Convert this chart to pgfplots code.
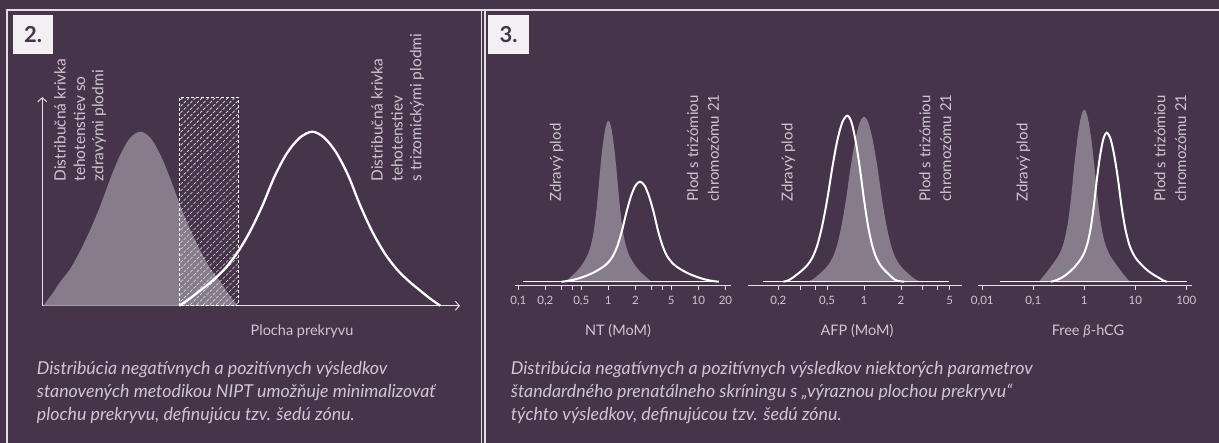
\documentclass[border=0pt]{standalone}
\usepackage{fontspec}
\setmainfont{Lato}
\usepackage{pgfplots}
\pgfplotsset{compat=1.18}
\usetikzlibrary{arrows.meta,patterns.meta}
\definecolor{bg}{HTML}{46344A}
\definecolor{fillgrey}{HTML}{877C8C}
\definecolor{txt}{HTML}{CEC7D1}
\definecolor{frame}{HTML}{E4DFE6}
\definecolor{boxbg}{HTML}{F2F0F3}
\newcommand\lab{\fontsize{15}{16}\selectfont}
\newcommand\lablarge{\fontsize{15.5}{17}\selectfont}
\newcommand\captfont{\fontsize{17.8}{19}\selectfont\itshape}
\pgfplotsset{
  minichart/.style={
    scale only axis, height=174pt, ymin=-4, ymax=170,
    axis y line=none, axis x line*=bottom,
    axis line style={draw=frame, line width=1.2pt, -},
    ytick=\empty,
    tick align=outside, major tick length=4pt, minor tick length=4pt,
    tick style={draw=frame, line width=0.8pt},
    xticklabel style={font=\fontsize{11.5}{13}\selectfont, text=txt, yshift=-3pt},
    clip=false
  }
}
\begin{document}
\begin{tikzpicture}[x=1pt,y=1pt]
\fill[bg] (0,0) rectangle (1219,443);
\draw[frame, line width=2pt] (7,0) -- (7,433) -- (1219,433);
\draw[frame, line width=1.6pt] (481.5,0) -- (481.5,433);
\draw[frame, line width=1.6pt] (485,0) -- (485,433);
\fill[boxbg] (13,389) rectangle (53,428);
\node[text=bg, font=\fontsize{22}{24}\selectfont\bfseries] at (33,408.5) {2.};
\fill[boxbg] (488,389) rectangle (529,428);
\node[text=bg, font=\fontsize{22}{24}\selectfont\bfseries] at (508.5,408.5) {3.};

% ---------- panel 2 ----------
\begin{axis}[at={(42.3pt,137.3pt)}, anchor=south west, scale only axis,
  width=417.7pt, height=208.6pt, xmin=0, xmax=417.7, ymin=0, ymax=208.6,
  axis lines=left, ticks=none, clip=false,
  axis line style={draw=frame, line width=1pt, -{Straight Barb[length=4pt,width=9pt]}}]
\addplot[fill=fillgrey, draw=none, smooth] coordinates {
(1,0) (4,4) (10,12) (18,24) (28,37) (38,55) (48,76) (58,100) (68,127) (78,151) (88,168) (98,174)
(108,168) (118,151) (128,127) (138,100) (148,76) (158,55) (168,37) (178,24) (186,12) (192,4) (195,0)} \closedcycle;
\addplot[draw=white, densely dashed, line width=0.8pt, pattern={Lines[angle=45,distance=4.6pt,line width=0.6pt]}, pattern color=white!80!fillgrey]
coordinates {(137,0) (137,208.6) (195.7,208.6) (195.7,0)} \closedcycle;
\addplot[white, line width=2.3pt, smooth] coordinates {
(137,0) (147.3,7) (157.7,15) (170.2,25) (182.6,37) (195.1,53) (207.6,74) (220.1,100) (232.6,130) (245,153) (257.5,168) (270,174)
(282,168) (294,153) (306,130) (318,100) (330,74) (342,53) (354,37) (366,25) (378,15) (388,7) (398,0)};
\end{axis}

% ---------- NT ----------
\begin{axis}[minichart, at={(515pt,157.3pt)}, anchor=south west, width=216pt, xmin=-1.037, xmax=1.363,
  xtick={-1,-0.699,-0.301,0,0.301,0.699,1,1.301},
  xticklabels={{0,1},{0,2},{0,5},1,2,5,10,20},
  minor xtick={-0.523,-0.398,0.477,0.602}]
\addplot[fill=fillgrey, draw=none, smooth] coordinates {
(-0.4767,0) (-0.4278,4.0) (-0.3667,8.9) (-0.3056,15.3) (-0.2444,24.2) (-0.2139,30.6) (-0.1833,40.3) (-0.1528,56.4) (-0.1222,80.5) (-0.0917,111.1) (-0.0611,136.9) (-0.0306,154.6) (0,161)
(0.0306,154.6) (0.0611,136.9) (0.0917,111.1) (0.1222,80.5) (0.1528,56.4) (0.1833,40.3) (0.2139,30.6) (0.2444,24.2) (0.3056,15.3) (0.3667,8.9) (0.4278,4.0) (0.4767,0)} \closedcycle;
\addplot[white, line width=1.4pt] coordinates {(-0.948,0) (1.226,0)};
\addplot[white, line width=2pt, smooth] coordinates {
(-0.522,0) (-0.461,0.6) (-0.360,2.5) (-0.258,5.5) (-0.156,9.5) (-0.055,15) (-0.004,19) (0.047,25) (0.098,35) (0.149,50) (0.200,69) (0.250,85) (0.301,96) (0.352,100)
(0.403,96) (0.454,85) (0.505,69) (0.555,50) (0.606,35) (0.657,25) (0.708,19) (0.759,15) (0.860,9.5) (0.962,5.5) (1.064,2.5) (1.165,0.6) (1.226,0)};
\end{axis}

% ---------- AFP ----------
\begin{axis}[minichart, at={(748.3pt,157.3pt)}, anchor=south west, width=213.4pt, xmin=-0.944, xmax=0.797,
  xtick={-0.699,-0.301,0,0.301,0.699},
  xticklabels={{0,2},{0,5},1,2,5},
  minor xtick={-0.523,-0.398,0.477,0.602}]
\addplot[fill=fillgrey, draw=none, smooth] coordinates {
(-0.4698,0) (-0.4404,1.0) (-0.4037,3.6) (-0.367,7.4) (-0.3303,11.6) (-0.2936,16.5) (-0.2569,23.9) (-0.2202,36.3) (-0.1835,56.1) (-0.1468,82.5) (-0.1101,113.9) (-0.0734,140.3) (-0.0367,158.4) (0,165)
(0.0367,158.4) (0.0734,140.3) (0.1101,113.9) (0.1468,82.5) (0.1835,56.1) (0.2202,36.3) (0.2569,23.9) (0.2936,16.5) (0.3303,11.6) (0.367,7.4) (0.4037,3.6) (0.4404,1.0) (0.4698,0)} \closedcycle;
\addplot[white, line width=1.4pt] coordinates {(-0.826,0) (0.694,0)};
\addplot[white, line width=2pt, smooth] coordinates {
(-0.658,0) (-0.625,1.0) (-0.585,3.7) (-0.544,7.5) (-0.503,11.6) (-0.462,16.6) (-0.421,24.1) (-0.381,36.5) (-0.340,56.4) (-0.299,83.0) (-0.258,114.5) (-0.218,141.1) (-0.177,159.4) (-0.136,166)
(-0.102,159.4) (-0.069,141.1) (-0.035,114.5) (-0.001,83.0) (0.032,56.4) (0.066,36.5) (0.100,24.1) (0.133,16.6) (0.167,11.6) (0.201,7.5) (0.234,3.7) (0.268,1.0) (0.33,0)};
\end{axis}

% ---------- Free beta-hCG ----------
\begin{axis}[minichart, at={(978.3pt,157.3pt)}, anchor=south west, width=213.4pt, xmin=-2.078, xmax=2.106,
  xtick={-2,-1,0,1,2},
  xticklabels={{0,01},{0,1},1,10,100}]
\addplot[fill=fillgrey, draw=none, smooth] coordinates {
(-0.8922,0) (-0.7647,7.7) (-0.6373,16.3) (-0.5098,25.8) (-0.4461,32.7) (-0.3824,43) (-0.3186,60.2) (-0.2549,86) (-0.1912,118.7) (-0.1275,146.2) (-0.0637,165.1) (0,172)
(0.0637,165.1) (0.1275,146.2) (0.1912,118.7) (0.2549,86) (0.3186,60.2) (0.3824,43) (0.4461,32.7) (0.5098,25.8) (0.6373,16.3) (0.7647,7.7) (0.8922,0)} \closedcycle;
\addplot[white, line width=1.4pt] coordinates {(-1.653,0) (2.008,0)};
\addplot[white, line width=2pt, smooth] coordinates {
(-0.657,0) (-0.581,0.9) (-0.453,3.7) (-0.326,8.2) (-0.198,14.2) (-0.071,22.4) (-0.007,28.3) (0.057,37.3) (0.121,52.2) (0.184,74.5) (0.248,102.8) (0.312,126.7) (0.375,143.0) (0.439,149)
(0.513,143.0) (0.586,126.7) (0.660,102.8) (0.733,74.5) (0.807,52.2) (0.880,37.3) (0.954,28.3) (1.027,22.4) (1.174,14.2) (1.321,8.2) (1.468,3.7) (1.56,0.9) (1.62,0)};
\end{axis}

% ---------- rotated labels ----------
\begin{scope}[every node/.style={rotate=90, anchor=west, inner sep=0pt, text=txt, font=\lablarge}]
\node at (60,261.3) {Distribučná krivka};
\node at (79.5,261.3) {tehotenstiev so};
\node at (99,261.3) {zdravými plodmi};
\node at (377,261.3) {Distribučná krivka};
\node at (397,261.3) {tehotenstiev};
\node at (417,261.3) {s trizomickými plodmi};
\end{scope}
\begin{scope}[every node/.style={rotate=90, anchor=west, inner sep=0pt, text=txt, font=\lab}]
\node at (556.7,241.3) {Zdravý plod};
\node at (692.7,241.3) {Plod s trizómiou};
\node at (713.3,241.3) {chromozómu 21};
\node at (788.3,241.3) {Zdravý plod};
\node at (925,241.3) {Plod s trizómiou};
\node at (945.6,241.3) {chromozómu 21};
\node at (1023.3,241.3) {Zdravý plod};
\node at (1160,241.3) {Plod s trizómiou};
\node at (1180.6,241.3) {chromozómu 21};
\end{scope}

% ---------- axis labels ----------
\begin{scope}[every node/.style={anchor=base, inner sep=0pt, text=txt, font=\fontsize{14.5}{16}\selectfont}]
\node at (302,107) {Plocha prekryvu};
\node at (618,107) {NT (MoM)};
\node at (857,107) {AFP (MoM)};
\node at (1088,107) {Free \textit{β}-hCG};
\end{scope}

% ---------- captions ----------
\begin{scope}[every node/.style={anchor=base west, inner sep=0pt, text=txt, font=\captfont}]
\node at (36.7,68) {Distribúcia negatívnych a pozitívnych výsledkov};
\node at (36.7,45.3) {stanovených metodikou NIPT umožňuje minimalizovať};
\node at (36.7,22.6) {plochu prekryvu, definujúcu tzv. šedú zónu.};
\node at (510.7,68) {Distribúcia negatívnych a pozitívnych výsledkov niektorých parametrov};
\node at (510.7,45.3) {štandardného prenatálneho skríningu s „výraznou plochou prekryvu“};
\node at (510.7,22.6) {týchto výsledkov, definujúcou tzv. šedú zónu.};
\end{scope}
\pgfresetboundingbox
\path (0,0) rectangle (1219,443);
\end{tikzpicture}
\end{document}
